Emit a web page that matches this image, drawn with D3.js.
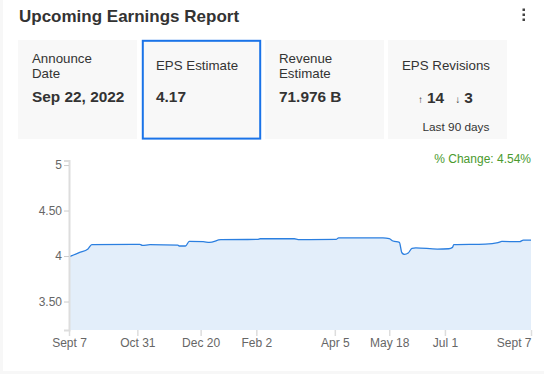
<!DOCTYPE html>
<html>
<head>
<meta charset="utf-8">
<script src="https://cdn.jsdelivr.net/npm/d3@7"></script>
<style>
  body { margin: 0; background: #f7f7f7; font-family: "Liberation Sans", Arial, sans-serif; }
  svg { display: block; }
</style>
</head>
<body>
<script>
(function(){

    // estimate history, one year back from Sept 7 2022
    var dates = ["2021-09-07","2021-09-15","2021-09-22","2021-09-25","2021-11-02","2021-11-04","2021-11-10","2021-12-02","2021-12-03",
        "2021-12-08","2021-12-11","2021-12-22","2021-12-27","2022-01-05","2022-02-03","2022-02-05","2022-03-04",
        "2022-03-07","2022-04-06","2022-04-08","2022-05-13","2022-05-18","2022-05-21","2022-05-26","2022-05-28",
        "2022-05-30","2022-06-02","2022-06-05","2022-06-08","2022-06-25","2022-07-04","2022-07-07","2022-07-08",
        "2022-08-02","2022-08-12","2022-08-15","2022-08-29","2022-09-01","2022-09-07"];
    var eps = [3.99,4.038,4.078,4.125,4.128,4.117,4.125,4.12,4.11,
        4.11,4.16,4.158,4.15,4.18,4.183,4.19,4.19,
        4.18,4.183,4.2,4.2,4.19,4.165,4.15,4.036,
        4.018,4.033,4.085,4.09,4.077,4.08,4.095,4.125,
        4.13,4.147,4.16,4.158,4.175,4.175];

    var yTicks = [3.5, 4, 4.5, 5];
    var xTickDates = ["2021-09-07","2021-10-31","2021-12-20","2022-02-02","2022-04-05","2022-05-18","2022-07-01","2022-09-07"];
    var xTickLabels = ["Sept 7","Oct 31","Dec 20","Feb 2","Apr 5","May 18","Jul 1","Sept 7"];

    var cards = [
        {title: ["Announce","Date"], value: "Sep 22, 2022"},
        {title: ["EPS Estimate"], value: "4.17"},
        {title: ["Revenue","Estimate"], value: "71.976 B"},
        {title: ["EPS Revisions"], value: null}
    ];
    var revisionsUp = 14, revisionsDown = 3;
    var pctChange = "4.54%";

    var width = 544, height = 374;
    var parse = d3.timeParse("%Y-%m-%d");

    var svg = d3.select("body").append("svg")
        .attr("width", width)
        .attr("height", height);

    // white panel
    svg.append("rect").attr("x", 3).attr("y", 0).attr("width", width - 3).attr("height", 371).attr("fill", "#fff");

    svg.append("text")
        .attr("x", 19).attr("y", 22)
        .attr("font-size", 17).attr("font-weight", "bold").attr("fill", "#333")
        .text("Upcoming Earnings Report");

    // kebab menu
    svg.selectAll(".dot").data([10, 15, 20]).enter().append("rect")
        .attr("x", 522.5).attr("y", function(d){ return d - 1.5; })
        .attr("width", 2.5).attr("height", 2.5).attr("fill", "#444");

    // summary cards
    var cardX = [18, 142, 265, 388], cardW = 119;
    var card = svg.selectAll(".card").data(cards).enter().append("g")
        .attr("transform", function(d, i){ return "translate(" + cardX[i] + ",40)"; });

    card.append("rect")
        .attr("width", cardW).attr("height", 99)
        .attr("fill", "#f8f8f8");

    card.each(function(d, i){
        var g = d3.select(this);
        var tx = 14;
        if (d.title.length == 2) {
            g.append("text").attr("x", tx).attr("y", 22.5).attr("font-size", 13.3).attr("fill", "#333").text(d.title[0]);
            g.append("text").attr("x", tx).attr("y", 37.5).attr("font-size", 13.3).attr("fill", "#333").text(d.title[1]);
        } else {
            g.append("text").attr("x", tx).attr("y", 30).attr("font-size", 13.3).attr("fill", "#333").text(d.title[0]);
        }
        if (d.value) {
            g.append("text").attr("x", tx).attr("y", 62)
                .attr("font-size", 15.4).attr("font-weight", "bold").attr("fill", "#333").text(d.value);
        }
    });

    // highlighted card border
    svg.append("rect")
        .attr("x", 142.8).attr("y", 40.8).attr("width", 117.4).attr("height", 97.8)
        .attr("fill", "none").attr("stroke", "#1a73e8").attr("stroke-width", 2);

    var rev = svg.append("g").attr("transform", "translate(388,40)");
    var revText = rev.append("text").attr("x", 30).attr("y", 62.5).attr("fill", "#333");
    revText.append("tspan").attr("font-size", 10).text("\u2191");
    revText.append("tspan").attr("font-size", 15.4).attr("font-weight", "bold").attr("dx", 4).text(revisionsUp);
    revText.append("tspan").attr("font-size", 10).attr("dx", 11).text("\u2193");
    revText.append("tspan").attr("font-size", 15.4).attr("font-weight", "bold").attr("dx", 4).text(revisionsDown);
    rev.append("text").attr("x", 34.5).attr("y", 90.5).attr("font-size", 11.8).attr("fill", "#333").text("Last 90 days");

    // chart
    var data = dates.map(function(d, i){ return {date: parse(d), value: eps[i]}; });

    var x = d3.scaleTime()
        .domain([parse(xTickDates[0]), parse(xTickDates[xTickDates.length - 1])])
        .range([69, 531]);

    var y = d3.scaleLinear()
        .domain([3.187, 5.05])
        .range([330, 160.5]);

    var area = d3.area()
        .x(function(d){ return x(d.date); })
        .y0(y(3.187))
        .y1(function(d){ return y(d.value); })
        .curve(d3.curveMonotoneX);

    var line = d3.line()
        .x(function(d){ return x(d.date); })
        .y(function(d){ return y(d.value); })
        .curve(d3.curveMonotoneX);

    svg.append("path").datum(data)
        .attr("d", area)
        .attr("fill", "#e3eefa");

    svg.append("path").datum(data)
        .attr("d", line)
        .attr("fill", "none")
        .attr("stroke", "#2b7fe0")
        .attr("stroke-width", 1.3);

    var yAxis = svg.append("g")
        .attr("transform", "translate(69,0)")
        .call(d3.axisLeft(y).tickValues(yTicks).tickSize(5)
            .tickFormat(function(d){ return d == 4 || d == 5 ? d : d3.format(".2f")(d); }));
    yAxis.select(".domain").attr("stroke", "#ddd").attr("stroke-width", 2);
    yAxis.selectAll(".tick line").attr("stroke", "#ccc");
    yAxis.selectAll(".tick text").attr("fill", "#666").attr("font-size", 12)
        .attr("font-family", "Liberation Sans, Arial, sans-serif").attr("x", -7);

    var xAxis = svg.append("g")
        .attr("transform", "translate(0,330)")
        .call(d3.axisBottom(x).tickValues(xTickDates.map(parse)).tickSize(6)
            .tickFormat(function(d, i){ return xTickLabels[i]; }));
    xAxis.select(".domain").remove();
    xAxis.selectAll(".tick line").attr("stroke", "#ddd").attr("stroke-width", 1.5);
    xAxis.selectAll(".tick text").attr("fill", "#666").attr("font-size", 12)
        .attr("font-family", "Liberation Sans, Arial, sans-serif").attr("dy", "0.9em").attr("y", 6)
        .attr("text-anchor", function(d, i){ return i == xTickDates.length - 1 ? "end" : "middle"; });

    svg.append("text")
        .attr("x", 531).attr("y", 163)
        .attr("text-anchor", "end")
        .attr("font-size", 12).attr("fill", "#4a9a2e")
        .text("% Change: " + pctChange);

})();
</script>
</body>
</html>
